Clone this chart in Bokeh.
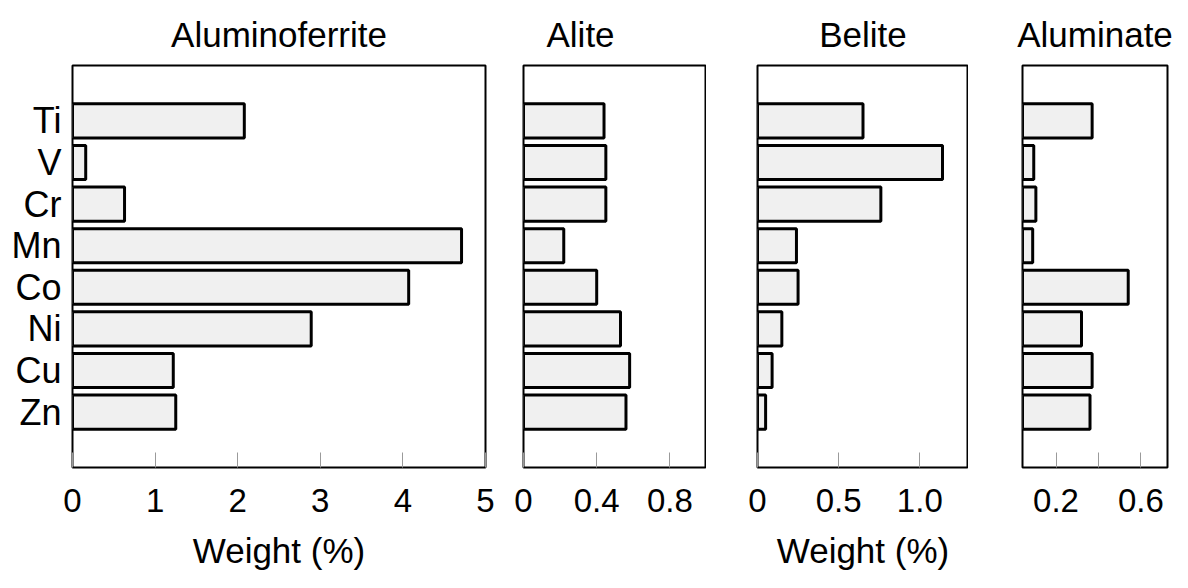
from bokeh.plotting import figure
from bokeh.layouts import row
from bokeh.models import FactorRange, Range1d, FixedTicker
from bokeh.embed import file_html
from bokeh.resources import INLINE

# ---- data ----
elements = ["Ti", "V", "Cr", "Mn", "Co", "Ni", "Cu", "Zn"]
aluminoferrite = [2.08, 0.16, 0.63, 4.71, 4.07, 2.89, 1.22, 1.25]
alite = [0.44, 0.45, 0.45, 0.22, 0.40, 0.53, 0.58, 0.56]
belite = [0.65, 1.14, 0.76, 0.24, 0.25, 0.15, 0.09, 0.05]
aluminate = [0.37, 0.095, 0.105, 0.09, 0.54, 0.32, 0.37, 0.36]

titles = ["Aluminoferrite", "Alite", "Belite", "Aluminate"]
xlabel = "Weight (%)"

af_ticks = [0, 1, 2, 3, 4, 5]
af_tick_labels = ["0", "1", "2", "3", "4", "5"]
al_ticks = [0, 0.4, 0.8]
al_tick_labels = ["0", "0.4", "0.8"]
be_ticks = [0, 0.5, 1.0]
be_tick_labels = ["0", "0.5", "1.0"]
am_ticks = [0.2, 0.4, 0.6]
am_tick_labels = ["0.2", "", "0.6"]

FONT = "Liberation Sans"


def panel(title, values, xr, ticks, tick_labels, frame_w, left_b, right_b,
          show_y=False, show_xlabel=False, title_align="center", title_offset=0):
    p = figure(
        y_range=FactorRange(*elements[::-1], range_padding=0.83,
                            range_padding_units="absolute"),
        x_range=Range1d(*xr),
        frame_width=frame_w, frame_height=402,
        min_border_left=left_b, min_border_right=right_b,
        min_border_top=64, min_border_bottom=114,
        output_backend="svg", toolbar_location=None,
        y_axis_location="left" if show_y else None,
    )
    p.hbar(y=elements, right=values, left=0, height=0.82,
           fill_color="#f0f0f0", line_color="black", line_width=3)

    p.grid.visible = False
    p.outline_line_color = "black"
    p.outline_line_width = 2
    p.background_fill_color = "white"
    p.border_fill_color = "white"

    p.title.text = title
    p.title.text_font = FONT
    p.title.text_font_size = "35px"
    p.title.text_font_style = "normal"
    p.title.text_color = "black"
    p.title.align = title_align
    p.title.offset = title_offset
    p.title.standoff = 24

    xa = p.xaxis[0]
    xa.ticker = FixedTicker(ticks=ticks)
    xa.major_label_overrides = {t: lab for t, lab in zip(ticks, tick_labels)}
    xa.minor_tick_line_color = None
    xa.axis_line_color = None
    xa.major_tick_in = 15
    xa.major_tick_out = 0
    xa.major_tick_line_color = "#9a9a9a"
    xa.major_tick_line_width = 1
    xa.major_label_text_font = FONT
    xa.major_label_text_font_size = "33px"
    xa.major_label_text_color = "black"
    xa.major_label_standoff = 21
    if show_xlabel:
        xa.axis_label = xlabel
        xa.axis_label_text_font = FONT
        xa.axis_label_text_font_size = "35px"
        xa.axis_label_text_font_style = "normal"
        xa.axis_label_text_color = "black"
        xa.axis_label_standoff = 16

    if show_y:
        ya = p.yaxis[0]
        ya.axis_line_color = None
        ya.major_tick_line_color = None
        ya.minor_tick_line_color = None
        ya.major_tick_in = 0
        ya.major_tick_out = 0
        ya.major_label_text_font = FONT
        ya.major_label_text_font_size = "36px"
        ya.major_label_text_color = "black"
        ya.major_label_standoff = 11
    return p


p1 = panel(titles[0], aluminoferrite, (0, 5.0), af_ticks, af_tick_labels,
           413, 72, 12, show_y=True, show_xlabel=True)
p2 = panel(titles[1], alite, (0, 1.0), al_ticks, al_tick_labels,
           183, 26, 0, title_align="left", title_offset=23)
p3 = panel(titles[2], belite, (0, 1.30), be_ticks, be_tick_labels,
           211, 51, 0, show_xlabel=True)
p4 = panel(titles[3], aluminate, (0.042, 0.725), am_ticks, am_tick_labels,
           145, 54, 13)

layout = row(p1, p2, p3, p4)
open("out.html", "w").write(file_html(layout, INLINE))
